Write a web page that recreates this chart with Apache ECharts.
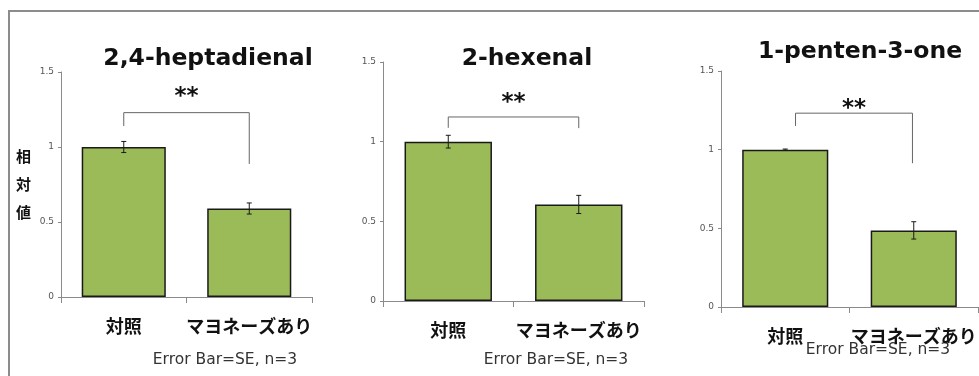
<!DOCTYPE html>
<html>
<head>
<meta charset="utf-8">
<script src="https://cdn.jsdelivr.net/npm/echarts@6/dist/echarts.min.js"></script>
<style>
  html, body { margin: 0; padding: 0; background: #fff; }
  #chart { width: 979px; height: 376px; }
</style>
</head>
<body>
<div id="chart"></div>
<script>
// Relative volatile levels, control vs. with mayonnaise (mean ± SE, n = 3)
const categories = ['対照', 'マヨネーズあり'];
const compoundNames = ['2,4-heptadienal', '2-hexenal', '1-penten-3-one'];

const heptadienalMean = [1.0, 0.59];
const heptadienalSE = [0.037, 0.037];
const hexenalMean = [1.0, 0.606];
const hexenalSE = [0.04, 0.057];
const pentenoneMean = [1.0, 0.487];
const pentenoneSE = [0.004, 0.055];

const yMin = 0, yMax = 1.5, yStep = 0.5;
const yAxisTitle = '相\n対\n値';

// Significance brackets in relative-value units: [top, left leg end, right leg end]
const bracketHeptadienal = [1.229, 1.14, 0.887];
const bracketHexenal = [1.155, 1.087, 1.085];
const bracketPentenone = [1.232, 1.151, 0.914];
// Bracket leg positions in category units (0 = first bar centre, 1 = second)
const bracketLegsHeptadienal = [0, 1];
const bracketLegsHexenal = [0, 1];
const bracketLegsPentenone = [0.08, 0.99];
const starLevels = [1.373, 1.279, 1.297];
const significance = '**';
const footnote = 'Error Bar=SE, n=3';

const means = [heptadienalMean, hexenalMean, pentenoneMean];
const errors = [heptadienalSE, hexenalSE, pentenoneSE];
const brackets = [bracketHeptadienal, bracketHexenal, bracketPentenone];
const bracketLegs = [bracketLegsHeptadienal, bracketLegsHexenal, bracketLegsPentenone];

// Layout of the three panels
const layout = [
  { grid: { left: 61, top: 72, width: 251, height: 225 }, title: [208, 59], note: [225, 360] },
  { grid: { left: 383, top: 62, width: 261, height: 239 }, title: [527, 59], note: [556, 360] },
  { grid: { left: 721, top: 71, width: 260, height: 236 }, title: [860, 52], note: [878, 350] }
];

const axisGray = '#8a8a8a';
const barGreen = '#9bbb59';
const ink = '#1a1a1a';

const grids = [], xAxes = [], yAxes = [], series = [], graphics = [];

layout.forEach((p, k) => {
  grids.push(Object.assign({ containLabel: false }, p.grid));

  xAxes.push({
    type: 'category',
    gridIndex: k,
    data: categories,
    boundaryGap: true,
    axisLine: { lineStyle: { color: axisGray, width: 1 } },
    axisTick: { show: true, length: 6, alignWithLabel: false, interval: 0, lineStyle: { color: axisGray } },
    axisLabel: {
      interval: 0,
      hideOverlap: false,
      margin: 20,
      fontFamily: 'Noto Sans CJK JP',
      fontWeight: 'bold',
      fontSize: 18,
      color: '#111'
    }
  });

  yAxes.push({
    type: 'value',
    gridIndex: k,
    min: yMin,
    max: yMax,
    interval: yStep,
    splitLine: { show: false },
    axisLine: { show: true, lineStyle: { color: axisGray, width: 1 } },
    axisTick: { show: true, length: 3, lineStyle: { color: axisGray } },
    axisLabel: { margin: 7, fontSize: 9, fontFamily: 'DejaVu Sans', color: '#555' },
    name: k === 0 ? yAxisTitle : '',
    nameLocation: 'middle',
    nameRotate: 0,
    nameGap: 30,
    nameTextStyle: {
      fontFamily: 'Noto Sans CJK JP',
      fontWeight: 'bold',
      fontSize: 15,
      lineHeight: 28,
      color: '#111'
    }
  });

  series.push({
    type: 'bar',
    xAxisIndex: k,
    yAxisIndex: k,
    data: means[k],
    barWidth: '67%',
    itemStyle: { color: barGreen, borderColor: ink, borderWidth: 1.5 },
    z: 2
  });

  // Error bars: mean ± SE
  series.push({
    type: 'custom',
    xAxisIndex: k,
    yAxisIndex: k,
    data: means[k].map((m, i) => [i, m - errors[k][i], m + errors[k][i]]),
    encode: { x: 0, y: [1, 2] },
    z: 3,
    renderItem: (params, api) => {
      const lo = api.coord([api.value(0), api.value(1)]);
      const hi = api.coord([api.value(0), api.value(2)]);
      const cap = 2.5;
      const st = { stroke: ink, lineWidth: 1 };
      return {
        type: 'group',
        children: [
          { type: 'line', shape: { x1: lo[0], y1: lo[1], x2: hi[0], y2: hi[1] }, style: st },
          { type: 'line', shape: { x1: hi[0] - cap, y1: hi[1], x2: hi[0] + cap, y2: hi[1] }, style: st },
          { type: 'line', shape: { x1: lo[0] - cap, y1: lo[1], x2: lo[0] + cap, y2: lo[1] }, style: st }
        ]
      };
    }
  });

  // Significance bracket with asterisks
  const b = brackets[k];
  series.push({
    type: 'custom',
    xAxisIndex: k,
    yAxisIndex: k,
    data: [[0, b[0], b[1], b[2], bracketLegs[k][0], bracketLegs[k][1], starLevels[k]]],
    encode: { x: 0, y: 1 },
    z: 4,
    renderItem: (params, api) => {
      const catW = api.size([1, 0])[0];
      const base = api.coord([0, api.value(1)]);
      const xl = base[0] + api.value(4) * catW;
      const xr = base[0] + api.value(5) * catW;
      const yTop = base[1];
      const yL = api.coord([0, api.value(2)])[1];
      const yR = api.coord([0, api.value(3)])[1];
      const yStar = api.coord([0, api.value(6)])[1];
      return {
        type: 'group',
        children: [
          {
            type: 'polyline',
            shape: { points: [[xl, yL], [xl, yTop], [xr, yTop], [xr, yR]] },
            style: { stroke: '#666', lineWidth: 1, fill: null }
          },
          {
            type: 'text',
            x: (xl + xr) / 2,
            y: yStar + 6,
            style: {
              text: significance,
              font: 'bold 23px "DejaVu Sans"',
              fill: '#111',
              textAlign: 'center',
              textVerticalAlign: 'middle'
            }
          }
        ]
      };
    }
  });

  graphics.push({
    type: 'text',
    x: p.title[0],
    y: p.title[1],
    style: {
      text: compoundNames[k],
      font: 'bold 23.5px "DejaVu Sans"',
      fill: '#111',
      textAlign: 'center',
      textVerticalAlign: 'middle'
    }
  });
  graphics.push({
    type: 'text',
    x: p.note[0],
    y: p.note[1],
    style: {
      text: footnote,
      font: '15.5px "DejaVu Sans"',
      fill: '#333',
      textAlign: 'center',
      textVerticalAlign: 'middle'
    }
  });
});

// Outer frame
graphics.push({
  type: 'rect',
  shape: { x: 9, y: 11, width: 1000, height: 400 },
  style: { fill: null, stroke: '#8c8c8c', lineWidth: 2 },
  silent: true
});

const chart = echarts.init(document.getElementById('chart'), null, { renderer: 'canvas' });
chart.setOption({
  animation: false,
  backgroundColor: '#fff',
  grid: grids,
  xAxis: xAxes,
  yAxis: yAxes,
  series: series,
  graphic: graphics
});
</script>
</body>
</html>
